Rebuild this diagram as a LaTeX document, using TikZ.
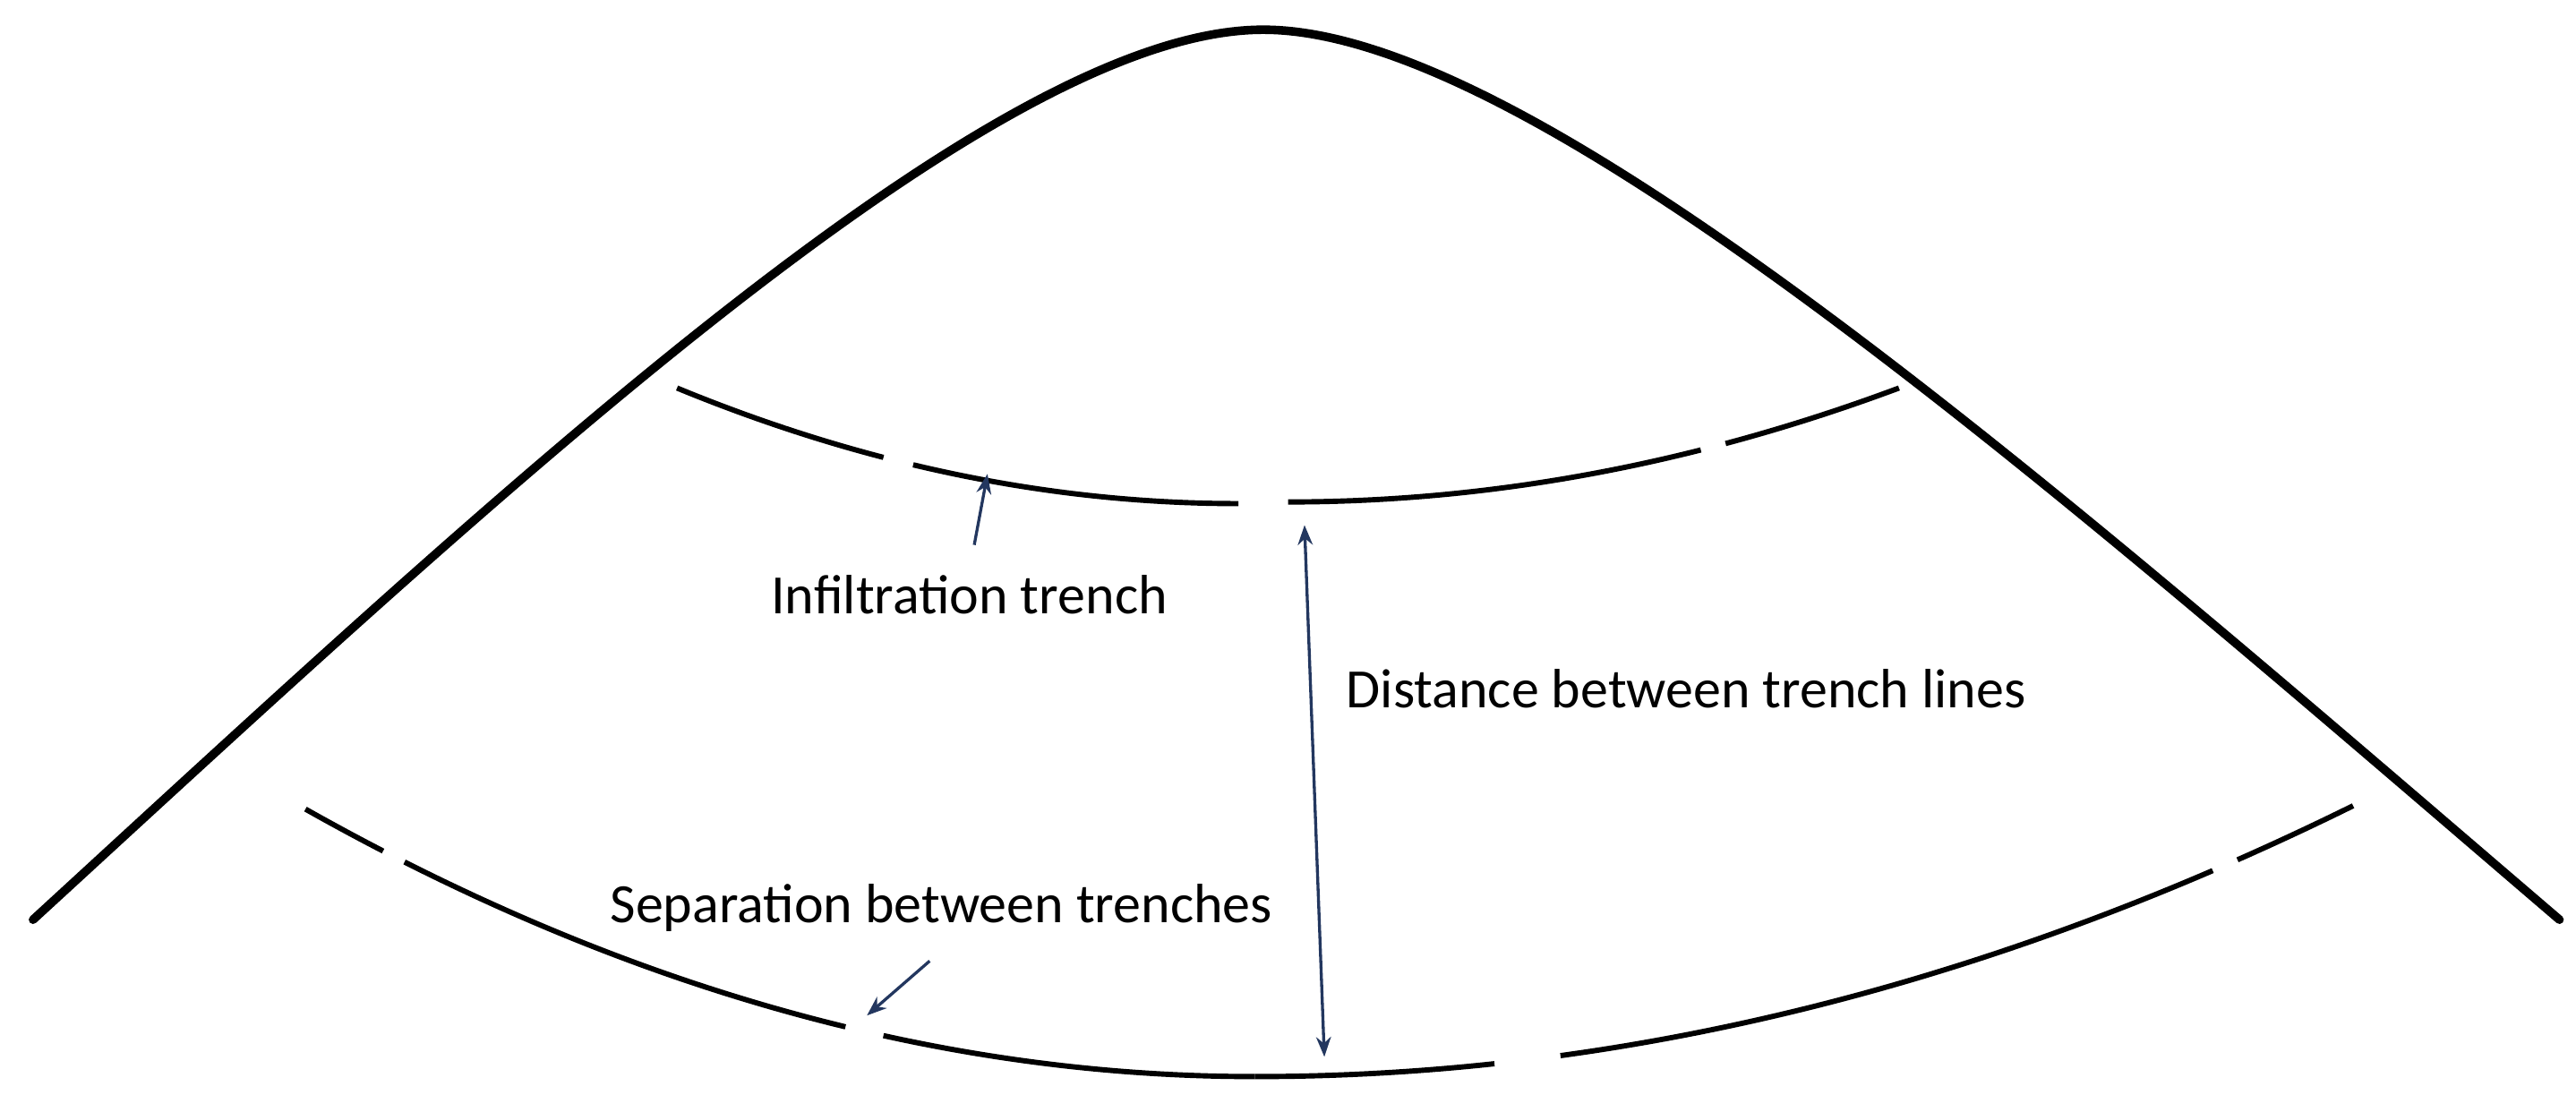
\documentclass[tikz,border=0pt]{standalone}
\usepackage{fontspec}
\setmainfont{Carlito}
\usetikzlibrary{arrows.meta}
\definecolor{navy}{RGB}{35,55,95}
\begin{document}
\begin{tikzpicture}[x=0.5pt,y=-0.5pt,
  trench/.style={line width=1.6pt,black},
  lab/.style={font=\fontsize{16.8}{18}\selectfont,inner sep=0pt},
  arr/.style={navy,line width=0.9pt,-{Stealth[length=6pt,width=4.5pt]}}]
\useasboundingbox (0,0) rectangle (1560,663);
% bell curve
\coordinate (bl) at (20,557);
\coordinate (top) at (765,18);
\coordinate (br) at (1550,557);
\draw[line width=2.6pt,line cap=round] (bl) .. controls (300,300) and (600,18) .. (top) .. controls (930,18) and (1250,300) .. (br);
% upper trench line
\draw[trench] plot[domain=410:535,samples=20,smooth] (\x,{305-70*((750-\x)/340)^2});
\draw[trench] plot[domain=553:750,samples=25,smooth] (\x,{305-70*((750-\x)/340)^2});
\draw[trench] plot[domain=780:1030,samples=25,smooth] (\x,{304-69*((\x-780)/370)^2});
\draw[trench] plot[domain=1045:1150,samples=20,smooth] (\x,{304-69*((\x-780)/370)^2});
% lower trench line
\draw[trench] plot[domain=185:232,samples=10,smooth] (\x,{652-162*((760-\x)/575)^2});
\draw[trench] plot[domain=245:512,samples=30,smooth] (\x,{652-162*((760-\x)/575)^2});
\draw[trench] plot[domain=535:760,samples=30,smooth] (\x,{652-162*((760-\x)/575)^2});
\draw[trench] plot[domain=760:905,samples=20,smooth] (\x,{652-164*((\x-760)/665)^2});
\draw[trench] plot[domain=945:1340,samples=40,smooth] (\x,{652-164*((\x-760)/665)^2});
\draw[trench] plot[domain=1355:1425,samples=10,smooth] (\x,{652-164*((\x-760)/665)^2});
% labels
\node[lab] (inf) at (587,360) {Infiltration trench};
\node[lab,anchor=west] (dist) at (815,417) {Distance between trench lines};
\node[lab] (sep) at (570,550) {Separation between trenches};
\coordinate (infT) at (598,287);
\coordinate (dT) at (790,318);
\coordinate (dB) at (802,640);
\coordinate (sepT) at (525,615);
\coordinate (sepS) at (563,582);
\coordinate (infS) at (590,330);
\draw[arr] (infS) -- (infT);
\draw[arr,{Stealth[length=6pt,width=4.5pt]}-{Stealth[length=6pt,width=4.5pt]}] (dT) -- (dB);
\draw[arr] (sepS) -- (sepT);
\end{tikzpicture}
\end{document}
